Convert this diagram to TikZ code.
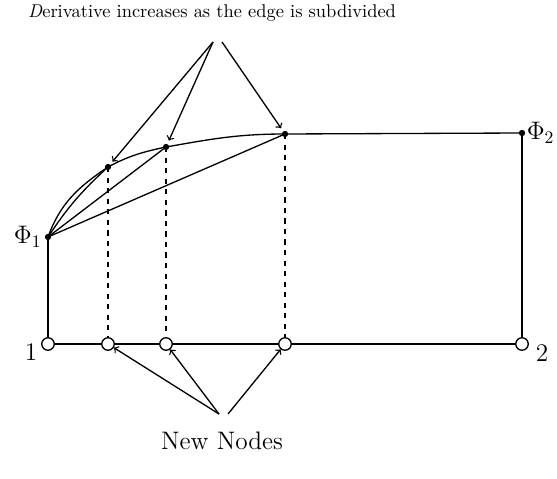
\documentclass[tikz,border=0pt]{standalone}
\usetikzlibrary{positioning}
\begin{document}
\begin{tikzpicture}[x=0.02cm,y=-0.02cm,line width=0.75pt,
  vert/.style={circle,draw,fill=white,inner sep=0pt,minimum size=0.25cm},
  lbl/.style={font=\Large}]
\useasboundingbox (0,0) rectangle (557,479);
% nodes on the edge
\node[vert] (n1) at (48,344) {};
\node[vert] (na) at (108,344) {};
\node[vert] (nb) at (166,344) {};
\node[vert] (nc) at (285,344) {};
\node[vert] (n2) at (522,344) {};
\draw (n1) -- (na) -- (nb) -- (nc) -- (n2);
\node[lbl] (t1) at (31,352) {1};
\node[lbl] (t2) at (542,353) {2};
% values above the edge
\coordinate (f1) at (48,237);
\coordinate (f2) at (522,133);
\coordinate (pa) at (108,167);
\coordinate (pb) at (166,147);
\coordinate (pc) at (285,134);
\draw (n1) -- (f1);
\draw (n2) -- (f2);
\draw (f1) to[out=70,in=214] (pa) to[out=28,in=192] (pb)
  to[out=10,in=180] (pc) -- (f2);
\draw (f1) to[bend left=7] (pa);
\draw (f1) -- (pb);
\draw (f1) -- (pc);
\foreach \p/\q in {pa/na,pb/nb,pc/nc}
  \draw[dashed] (\p) -- (\q);
\foreach \p in {f1,f2,pa,pb,pc}
  \fill (\p) circle (1.8pt);
\node[lbl,left=0pt of f1] (l1) {$\Phi_1$};
\node[lbl,right=-1pt of f2] (l2) {$\Phi_2$};
% annotations
\node[font=\fontsize{10.5}{12}\selectfont] (top) at (212,13)
  {\textit{D}erivative increases as the edge is subdivided};
\coordinate (s1) at (213,42);
\coordinate (s2) at (222,42);
\draw[->,shorten >=4pt] (s1) -- (pa);
\draw[->,shorten >=4pt] (s1) -- (pb);
\draw[->,shorten >=4pt] (s2) -- (pc);
\node[lbl] (new) at (222,441) {New Nodes};
\coordinate (u1) at (219,414);
\coordinate (u2) at (228,414);
\draw[->] (u1) -- (na);
\draw[->] (u1) -- (nb);
\draw[->] (u2) -- (nc);
\end{tikzpicture}
\end{document}
